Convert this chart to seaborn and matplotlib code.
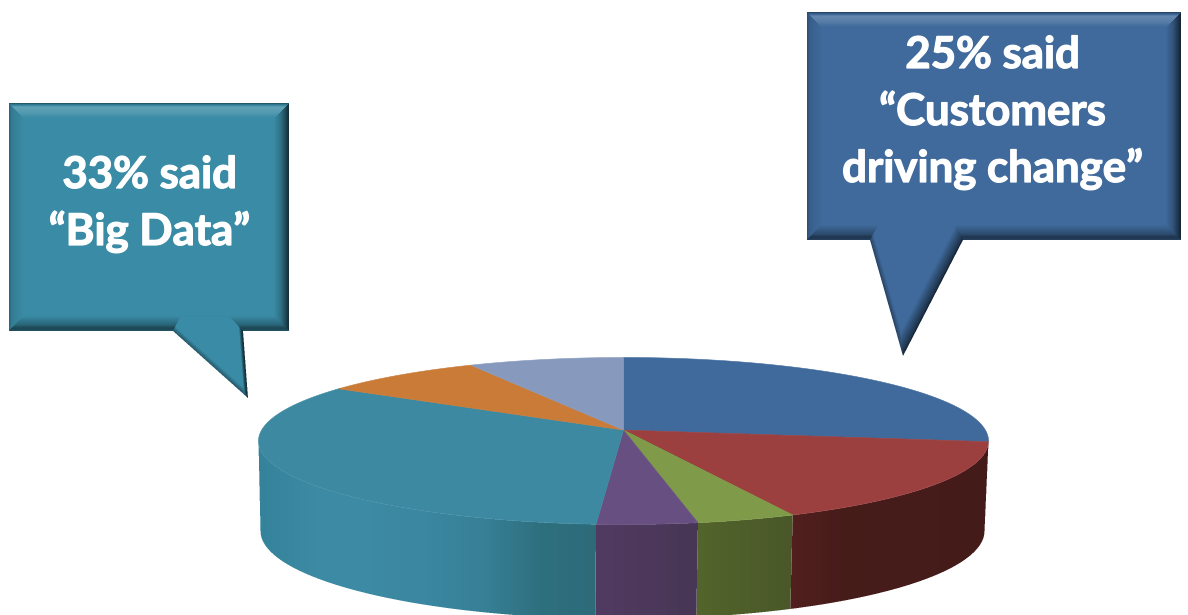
import numpy as np
import seaborn as sns
import matplotlib
matplotlib.use("Agg")
import matplotlib.pyplot as plt
import matplotlib.patheffects as pe
from matplotlib.colors import to_rgb
from matplotlib.path import Path

# Survey shares, clockwise from twelve o'clock
topics = ["Customers driving change", "Other A", "Other B", "Other C", "Big Data", "Other D", "Other E"]
shares = [25.0, 17.2, 4.47, 4.38, 33.0, 8.15, 7.8]
top_colors = ["#3f6a9b", "#9b3f3f", "#7f9a48", "#684f81", "#3d89a2", "#c97b37", "#879abd"]

callout_lines_left = ["33% said", "“Big Data”"]
callout_lines_right = ["25% said", "“Customers", "driving change”"]
callout_color_left = "#3a8ba5"
callout_color_right = "#3f6a9b"

# Side-wall shading from left to right for each slice that faces the viewer
wall_ramps = {
    "Other A": ["#52201e", "#471c1a", "#451c19", "#451c19", "#431b18"],
    "Other B": ["#53642c", "#4a5829"],
    "Other C": ["#523b62", "#473655"],
    "Big Data": ["#35839b", "#3c8aa3", "#3d8aa3", "#3b86a0", "#378096", "#2f707f", "#2d6b79"],
}

W, H = 1188, 615
TOP = dict(cx=623.5, cy=441.0, rx=365.0, ry=83.5)
BASE = dict(cx=622.5, cy=531.0, rx=362.0, ry=88.0)
PERSPECTIVE = 0.131
LEAN_DEG = 8.0

sns.set_theme(style="white")
plt.rcParams["font.family"] = ["Lato", "DejaVu Sans"]

fig = plt.figure(figsize=(W / 100, H / 100), dpi=100)
ax = fig.add_axes([0, 0, 1, 1])


def disc_to_ellipse(theta_deg):
    """Project a disc angle onto the unit ellipse with foreshortened depth."""
    th = np.radians(theta_deg)
    th = th - np.radians(LEAN_DEG) * np.maximum(np.cos(th), 0)
    x, y = np.cos(th), np.sin(th)
    d = 1 + PERSPECTIVE * y
    return x * np.sqrt(1 - PERSPECTIVE ** 2) / d, (y + PERSPECTIVE) / d


def to_screen(u, v, e):
    return e["cx"] + e["rx"] * u, e["cy"] - e["ry"] * v


def paint(polygon, shade):
    """Draw a polygon filled by a per-pixel colour function, with smooth edges."""
    polygon = np.asarray(polygon)
    x0 = int(np.floor(polygon[:, 0].min())) - 1
    x1 = int(np.ceil(polygon[:, 0].max())) + 1
    y0 = int(np.floor(polygon[:, 1].min())) - 1
    y1 = int(np.ceil(polygon[:, 1].max())) + 1
    ss = 3
    gx = (np.arange((x1 - x0) * ss) + 0.5) / ss + x0
    gy = (np.arange((y1 - y0) * ss) + 0.5) / ss + y0
    mx, my = np.meshgrid(gx, gy)
    inside = Path(polygon).contains_points(np.c_[mx.ravel(), my.ravel()]).reshape(mx.shape)
    alpha = inside.reshape(y1 - y0, ss, x1 - x0, ss).mean(axis=(1, 3))
    px, py = np.meshgrid(np.arange(x0, x1) + 0.5, np.arange(y0, y1) + 0.5)
    rgba = np.dstack([np.clip(shade(px, py), 0, 1), alpha])
    ax.imshow(rgba, extent=(x0, x1, y1, y0), interpolation="nearest", aspect="auto", zorder=2)


def tone(body, f):
    """Darken for f below one, tint toward white for f above one."""
    body = np.array(to_rgb(body))
    f = f[..., None]
    return np.where(f <= 1, body * f, body + (1 - body) * (f - 1))


def edge_distance(px, py, a, b):
    a, b = np.array(a, float), np.array(b, float)
    n = np.array([b[1] - a[1], a[0] - b[0]])
    n /= np.hypot(*n)
    return np.abs((px - a[0]) * n[0] + (py - a[1]) * n[1])


def draw_callout(box, tail, body, bevel=15, tail_widths=(5, 12)):
    left, top, right, bottom = box

    def shade_box(px, py):
        d = np.stack([py - top, bottom - py, px - left, right - px])
        near = d.argmin(axis=0)
        m = d.min(axis=0)
        ramps = [
            np.interp(m, [0, 1.5, 4, 9, bevel], [0.55, 0.85, 1.2, 1.14, 1.0]),
            np.interp(m, [0, 3, 6, bevel], [0.6, 0.5, 0.72, 1.0]),
            np.interp(m, [0, 3, bevel], [0.72, 0.9, 1.0]),
            np.interp(m, [0, 3, 8, bevel], [0.32, 0.5, 0.8, 1.0]),
        ]
        f = np.choose(near, ramps)
        return tone(body, f)

    paint([(left, top), (right, top), (right, bottom), (left, bottom)], shade_box)

    base_l, inner_l, inner_r, base_r, tip = tail

    def shade_tail(px, py):
        dl = edge_distance(px, py, base_l, tip)
        dr = edge_distance(px, py, base_r, tip)
        f = np.minimum(
            np.interp(dl, [0, tail_widths[0]], [0.62, 1.0]),
            np.interp(dr, [0, 2, tail_widths[1]], [0.3, 0.5, 1.0]),
        )
        return tone(body, f)

    paint([base_l, inner_l, inner_r, base_r, tip], shade_tail)


# Slice boundaries follow directly from the cumulative shares
edges = 90 - 3.6 * np.concatenate([[0], np.cumsum(shares)])
apex = (TOP["cx"], TOP["cy"] - TOP["ry"] * PERSPECTIVE)

# Walls first, so the top surface sits cleanly over them
for name, a, b in zip(topics, edges[:-1], edges[1:]):
    if name not in wall_ramps:
        continue
    th = np.linspace(a, b, 200)
    u, v = disc_to_ellipse(th)
    keep = v <= 0
    u, v = u[keep], v[keep]
    tx, ty = to_screen(u, v, TOP)
    bx, by = to_screen(u, v, BASE)
    outline = np.r_[np.c_[tx, ty], np.c_[bx, by][::-1]]
    xmin, xmax = outline[:, 0].min(), outline[:, 0].max()
    ramp = sns.blend_palette(wall_ramps[name], n_colors=256, as_cmap=True)
    paint(outline, lambda px, py, r=ramp, lo=xmin, hi=xmax: r((px - lo) / (hi - lo))[..., :3])

palette = sns.color_palette(top_colors)
for color, a, b in zip(palette, edges[:-1], edges[1:]):
    u, v = disc_to_ellipse(np.linspace(a, b, 200))
    x, y = to_screen(u, v, TOP)
    ax.fill(np.r_[apex[0], x], np.r_[apex[1], y], facecolor=color, edgecolor=color, lw=0.4, zorder=3)

draw_callout(
    (9, 103, 289, 331),
    ((173, 331), (180, 317), (230, 317), (243, 331), (248, 398)),
    callout_color_left,
    tail_widths=(5, 4),
)
draw_callout(
    (807, 12, 1181, 240),
    ((870, 240), (878, 225), (955, 225), (963, 240), (903, 356)),
    callout_color_right,
    tail_widths=(5, 13),
)

# A thin white stroke gives the labels their heavier weight
heavy = [pe.withStroke(linewidth=0.9, foreground="white")]
for line, baseline in zip(callout_lines_left, (188, 245)):
    ax.text(149.5, baseline, line, color="white", fontsize=31.5, fontweight="bold",
            ha="center", va="baseline", zorder=5, path_effects=heavy)
for line, baseline in zip(callout_lines_right, (68, 125, 182)):
    ax.text(992.5, baseline, line, color="white", fontsize=31.5, fontweight="bold",
            ha="center", va="baseline", zorder=5, path_effects=heavy)

ax.set_xlim(0, W)
ax.set_ylim(H, 0)
ax.axis("off")
fig.savefig("out.png", dpi=100, facecolor="white")
